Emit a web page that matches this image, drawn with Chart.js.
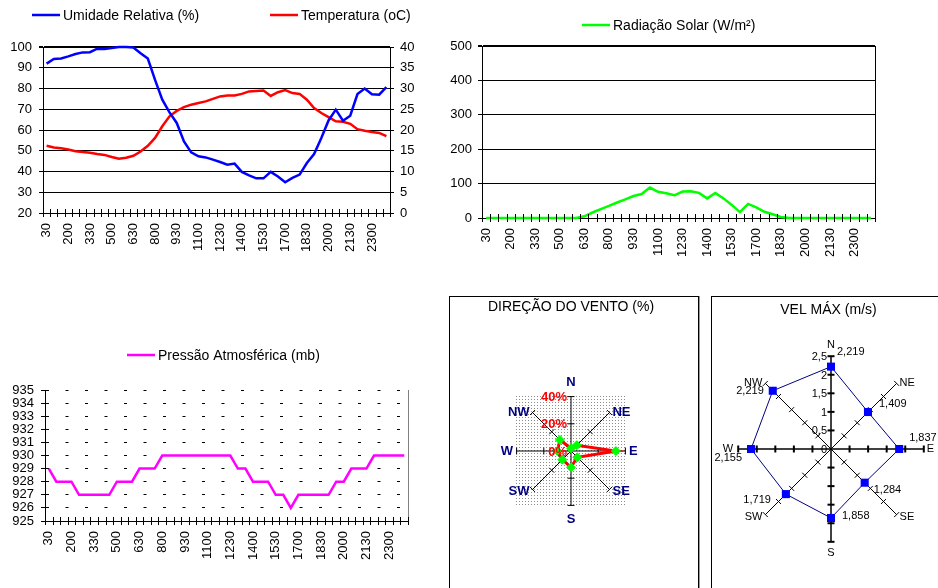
<!DOCTYPE html>
<html>
<head>
<meta charset="utf-8">
<script src="https://cdn.jsdelivr.net/npm/chart.js@4"></script>
<style>
  body { margin: 0; width: 938px; height: 588px; overflow: hidden; background: #fff; position: relative; }
  canvas { position: absolute; }
  .caixa { position: absolute; box-sizing: border-box; border: 1px solid #000; box-shadow: 1px 0 0 #999; }
</style>
</head>
<body>
<div class="caixa" style="left:449px;top:296px;width:250px;height:300px"></div>
<div class="caixa" style="left:711px;top:296px;width:240px;height:300px"></div>
<canvas id="grafUmidade" width="430" height="290" style="left:0;top:0"></canvas>
<canvas id="grafRadiacao" width="498" height="290" style="left:440px;top:0"></canvas>
<canvas id="grafPressao" width="430" height="258" style="left:0;top:330px"></canvas>
<canvas id="grafDirecao" width="248" height="291" style="left:450px;top:297px"></canvas>
<canvas id="grafVelMax" width="238" height="291" style="left:712px;top:297px"></canvas>
<script>
// horários (meia em meia hora)
const horarios = ['30','100','130','200','230','300','330','400','430','500','530','600',
  '630','700','730','800','830','900','930','1000','1030','1100','1130','1200',
  '1230','1300','1330','1400','1430','1500','1530','1600','1630','1700','1730','1800',
  '1830','1900','1930','2000','2030','2100','2130','2200','2230','2300','2330','2400'];

const umidade = [92, 94.2, 94.5, 95.5, 96.6, 97.4, 97.5, 99.2, 99, 99.5, 100, 100,
  99.8, 97, 94.4, 84.2, 74.6, 68.5, 63.4, 54.5, 49.2, 47.3, 46.8, 45.7,
  44.6, 43.3, 43.8, 39.8, 38.1, 36.7, 36.7, 39.8, 37.6, 34.8, 36.9, 38.5,
  44.1, 48.4, 56.1, 64.6, 69.8, 64.5, 66.9, 77.3, 80, 77.2, 77, 80.7];

const temperatura = [16.2, 15.8, 15.6, 15.3, 14.9, 14.7, 14.5, 14.2, 14.0, 13.5, 13.1, 13.3,
  13.8, 14.8, 16.2, 18.1, 20.9, 23.3, 24.6, 25.5, 26.1, 26.5, 26.9, 27.5,
  28.1, 28.3, 28.3, 28.7, 29.3, 29.4, 29.5, 28.2, 29.1, 29.6, 28.9, 28.7,
  27.3, 25.3, 24.1, 23.1, 22.1, 22.0, 21.5, 20.2, 19.8, 19.5, 19.3, 18.5];

const radiacao = [0, 0, 0, 0, 0, 0, 0, 0, 0, 0, 0, 0,
  5, 16, 26, 35, 45, 54, 64, 69.5, 88.6, 76, 72, 66,
  77, 78, 73, 57, 73, 57, 38, 17, 41, 31, 18, 11,
  3, 0, 0, 0, 0, 0, 0, 0, 0, 0, 0, 0];

const pressao = [929, 928, 928, 928, 927, 927, 927, 927, 927, 928, 928, 928,
  929, 929, 929, 930, 930, 930, 930, 930, 930, 930, 930, 930,
  930, 929, 929, 928, 928, 928, 927, 927, 926, 927, 927, 927,
  927, 927, 928, 928, 929, 929, 929, 930, 930, 930, 930, 930];

const rumos = ['N', 'NE', 'E', 'SE', 'S', 'SW', 'W', 'NW'];
const direcaoVento = [2, 6, 33, 6.5, 12, 9, 10, 11.5];
const velMax = [2.219, 1.409, 1.837, 1.284, 1.858, 1.719, 2.155, 2.219];

const FONTE = '"Liberation Sans", Arial, sans-serif';
Chart.defaults.font.family = FONTE;
Chart.defaults.font.size = 13;
Chart.defaults.color = '#000';
Chart.defaults.animation = false;
Chart.defaults.responsive = false;
Chart.defaults.events = [];
Chart.defaults.plugins.legend.display = false;
Chart.defaults.plugins.tooltip.enabled = false;

// legenda com traço, posicionada à mão
const legendaLinha = {
  id: 'legendaLinha',
  afterDraw(chart, args, o) {
    const ctx = chart.ctx;
    chart.data.datasets.forEach((ds, i) => {
      const x = o.x[i], y = o.y;
      ctx.save();
      ctx.strokeStyle = ds.borderColor;
      ctx.lineWidth = 2.5;
      ctx.beginPath(); ctx.moveTo(x, y); ctx.lineTo(x + 28, y); ctx.stroke();
      ctx.fillStyle = '#000';
      ctx.font = '14px ' + FONTE;
      ctx.textBaseline = 'middle';
      ctx.fillText(ds.label, x + 31, y + 1);
      ctx.restore();
    });
  }
};

// marcas cruzando o eixo x entre as categorias
const marcasX = {
  id: 'marcasX',
  afterDraw(chart) {
    const xs = chart.scales.x, ctx = chart.ctx, y = xs.top;
    ctx.save();
    ctx.strokeStyle = '#000'; ctx.lineWidth = 1;
    ctx.beginPath();
    for (let i = 0; i <= chart.data.labels.length; i++) {
      const x = Math.round(xs.getPixelForValue(i - 0.5)) + 0.5;
      ctx.moveTo(x, y - 4); ctx.lineTo(x, y + 4);
    }
    ctx.stroke();
    ctx.restore();
  }
};

// fundo pontilhado, marcas nos eixos, rótulos da escala e rumos diagonais
const rosaDecor = {
  id: 'rosaDecor',
  beforeDraw(chart, args, o) {
    if (!o.pontilhado) return;
    const r = chart.scales.r, ctx = chart.ctx;
    const pc = document.createElement('canvas');
    pc.width = 3; pc.height = 3;
    const p = pc.getContext('2d');
    p.fillStyle = '#8c8c8c'; p.fillRect(0, 0, 1, 1);
    const d = r.drawingArea + 1;
    ctx.save();
    ctx.fillStyle = ctx.createPattern(pc, 'repeat');
    ctx.fillRect(r.xCenter - d, r.yCenter - d, 2 * d, 2 * d);
    ctx.restore();
  },
  beforeDatasetsDraw(chart, args, o) {
    const r = chart.scales.r, ctx = chart.ctx;
    ctx.save();
    ctx.strokeStyle = '#000';
    r.ticks.forEach(t => {
      if (t.value <= r.min) return;
      const dist = r.getDistanceFromCenterForValue(t.value);
      for (let i = 0; i < chart.data.labels.length; i++) {
        const p = r.getPointPosition(i, dist);
        const nx = -Math.sin(p.angle), ny = Math.cos(p.angle);
        ctx.lineWidth = i % 2 === 0 ? o.larguraReta : 1;
        ctx.beginPath();
        ctx.moveTo(p.x - nx * o.marca, p.y - ny * o.marca);
        ctx.lineTo(p.x + nx * o.marca, p.y + ny * o.marca);
        ctx.stroke();
      }
    });
    ctx.restore();
  },
  afterDraw(chart, args, o) {
    const r = chart.scales.r, ctx = chart.ctx;
    ctx.save();
    ctx.textBaseline = 'middle';
    // rumos NE, SE, SW, NW ao lado da ponta do eixo
    ctx.font = o.fonteRumo; ctx.fillStyle = o.corRumo;
    chart.data.labels.forEach((txt, i) => {
      if (i % 2 === 0) return;
      const p = r.getPointPosition(i, r.drawingArea);
      const direita = Math.cos(p.angle) > 0;
      ctx.textAlign = direita ? 'left' : 'right';
      ctx.fillText(txt, p.x + (direita ? o.folga : -o.folga), p.y + (Math.sin(p.angle) > 0 ? 2 : 0));
    });
    // valores da escala à esquerda do eixo N
    ctx.font = o.fonte; ctx.fillStyle = o.cor;
    ctx.textAlign = 'right';
    r.ticks.forEach(t => {
      const y = r.yCenter - r.getDistanceFromCenterForValue(t.value);
      ctx.fillText(String(t.value).replace('.', ',') + o.sufixo, r.xCenter - 4, y + 1);
    });
    ctx.restore();
  }
};

// valores junto aos pontos da velocidade máxima
const rotulosVel = {
  id: 'rotulosVel',
  desloc: [[6, -15], [11, -8], [10, -11], [9, 7], [11, -2], [-15, 6], [-9, 9], [-9, 0]],
  afterDatasetsDraw(chart) {
    const meta = chart.getDatasetMeta(0), ctx = chart.ctx;
    const dados = chart.data.datasets[0].data;
    ctx.save();
    ctx.font = '11px ' + FONTE;
    ctx.fillStyle = '#000'; ctx.textBaseline = 'middle';
    meta.data.forEach((pt, i) => {
      const [dx, dy] = this.desloc[i];
      ctx.textAlign = dx < 0 ? 'right' : 'left';
      ctx.fillText(dados[i].toFixed(3).replace('.', ','), pt.x + dx, pt.y + dy);
    });
    ctx.restore();
  }
};

function eixoX(altura) {
  return {
    offset: true,
    grid: { display: false, drawTicks: false },
    border: { color: '#000' },
    ticks: {
      autoSkip: false, minRotation: 90, maxRotation: 90, padding: 10,
      callback: function (v, i) { return i % 3 === 0 ? this.getLabelForValue(v) : ''; }
    },
    afterFit: s => { s.height = altura; }
  };
}

function serie(label, data, cor, eixo) {
  return { label, data, borderColor: cor, backgroundColor: cor, borderWidth: 2.5,
    pointRadius: 0, tension: 0, yAxisID: eixo, clip: 4 };
}

new Chart(document.getElementById('grafUmidade'), {
  type: 'line',
  data: {
    labels: horarios,
    datasets: [
      serie('Umidade Relativa (%)', umidade, '#0000FF', 'y'),
      serie('Temperatura (oC)', temperatura, '#FF0000', 'y1')
    ]
  },
  options: {
    layout: { padding: { top: 47 } },
    plugins: { legendaLinha: { x: [32, 270], y: 15 } },
    scales: {
      x: eixoX(77),
      y: {
        position: 'left', min: 20, max: 100,
        ticks: { stepSize: 10, padding: 7 },
        grid: { color: '#000', tickLength: 4, lineWidth: c => c.tick.value === 100 ? 2 : 1 },
        border: { color: '#000' },
        afterFit: s => { s.width = 43; }
      },
      y1: {
        position: 'right', min: 0, max: 40,
        ticks: { stepSize: 5, padding: 6 },
        grid: { drawOnChartArea: false, color: '#000', tickLength: 4 },
        border: { color: '#000' },
        afterFit: s => { s.width = 40; }
      }
    }
  },
  plugins: [legendaLinha, marcasX]
});

new Chart(document.getElementById('grafRadiacao'), {
  type: 'line',
  data: {
    labels: horarios,
    datasets: [serie('Radiação Solar (W/m²)', radiacao, '#00FF00', 'y')]
  },
  options: {
    layout: { padding: { top: 46 } },
    plugins: { legendaLinha: { x: [142], y: 25 } },
    scales: {
      x: eixoX(72),
      y: {
        position: 'left', min: 0, max: 500,
        ticks: { stepSize: 100, padding: 6 },
        grid: { color: '#000', tickLength: 4, lineWidth: c => c.tick.value === 500 ? 2 : 1 },
        border: { color: '#000' },
        afterFit: s => { s.width = 42; }
      },
      y1: {
        position: 'right', min: 0, max: 500,
        ticks: { display: false },
        grid: { drawOnChartArea: false, drawTicks: false },
        border: { color: '#000' },
        afterFit: s => { s.width = 63; }
      }
    }
  },
  plugins: [legendaLinha, marcasX]
});

new Chart(document.getElementById('grafPressao'), {
  type: 'line',
  data: {
    labels: horarios,
    datasets: [serie('Pressão Atmosférica (mb)', pressao, '#FF00FF', 'y')]
  },
  options: {
    layout: { padding: { top: 60 } },
    plugins: { legendaLinha: { x: [127], y: 25 } },
    scales: {
      x: eixoX(67),
      y: {
        position: 'left', min: 925, max: 935,
        ticks: { stepSize: 1, autoSkip: false, padding: 7 },
        grid: { color: '#000', tickLength: 4 },
        border: { color: '#000', dash: [3, 16.5] },
        afterFit: s => { s.width = 45; }
      },
      y1: {
        position: 'right', min: 925, max: 935,
        ticks: { display: false },
        grid: { drawOnChartArea: false, drawTicks: false },
        border: { color: '#808080' },
        afterFit: s => { s.width = 12; }
      }
    }
  },
  plugins: [legendaLinha, marcasX]
});

new Chart(document.getElementById('grafDirecao'), {
  type: 'radar',
  data: {
    labels: rumos,
    datasets: [{
      label: 'Direção do vento', data: direcaoVento, fill: false,
      borderColor: '#FF0000', borderWidth: 3, tension: 0,
      pointStyle: 'rectRot', pointRadius: 4.5,
      pointBackgroundColor: '#00FF00', pointBorderColor: '#00FF00', pointBorderWidth: 1
    }]
  },
  options: {
    layout: { padding: { left: 1, right: 7, top: 0, bottom: 61 } },
    plugins: {
      title: { display: true, text: 'DIREÇÃO DO VENTO (%)', color: '#000',
        font: { size: 14, weight: 'normal' }, padding: { top: 2, bottom: 59.2 } },
      rosaDecor: { pontilhado: true, larguraReta: 1, marca: 3.5, sufixo: '%',
        cor: '#FF0000', fonte: 'bold 13px ' + FONTE,
        corRumo: '#000080', fonteRumo: 'bold 13px ' + FONTE, folga: 3 }
    },
    scales: {
      r: {
        min: 0, max: 40,
        ticks: { stepSize: 20, display: false },
        grid: { display: false },
        angleLines: { color: '#000', lineWidth: 1 },
        pointLabels: {
          color: c => c.index % 2 ? 'rgba(0,0,0,0)' : '#000080',
          font: { size: 13, weight: 'bold' },
          padding: c => c.index % 4 === 0 ? 6 : 3.5
        }
      }
    }
  },
  plugins: [rosaDecor]
});

new Chart(document.getElementById('grafVelMax'), {
  type: 'radar',
  data: {
    labels: rumos,
    datasets: [{
      label: 'Vel máx', data: velMax, fill: false,
      borderColor: '#000080', borderWidth: 1, tension: 0,
      pointStyle: 'rect', pointRadius: 5.7,
      pointBackgroundColor: '#0000FF', pointBorderColor: '#0000FF', pointBorderWidth: 0
    }]
  },
  options: {
    layout: { padding: { left: 7, right: 12, top: 0, bottom: 28 } },
    plugins: {
      title: { display: true, text: 'VEL MÁX (m/s)', color: '#000',
        font: { size: 14, weight: 'normal' }, padding: { top: 5, bottom: 19.2 } },
      rosaDecor: { pontilhado: false, larguraReta: 2, marca: 3.5, sufixo: '',
        cor: '#000', fonte: '11px ' + FONTE,
        corRumo: '#000', fonteRumo: '11px ' + FONTE, folga: 3 }
    },
    scales: {
      r: {
        min: 0, max: 2.5,
        ticks: { stepSize: 0.5, display: false },
        grid: { display: false },
        angleLines: { color: '#000', lineWidth: c => c.index % 2 === 0 ? 1.5 : 1 },
        pointLabels: {
          color: c => c.index % 2 ? 'rgba(0,0,0,0)' : '#000',
          font: { size: 11 },
          padding: c => c.index === 2 ? 3 : 5
        }
      }
    }
  },
  plugins: [rosaDecor, rotulosVel]
});
</script>
</body>
</html>
